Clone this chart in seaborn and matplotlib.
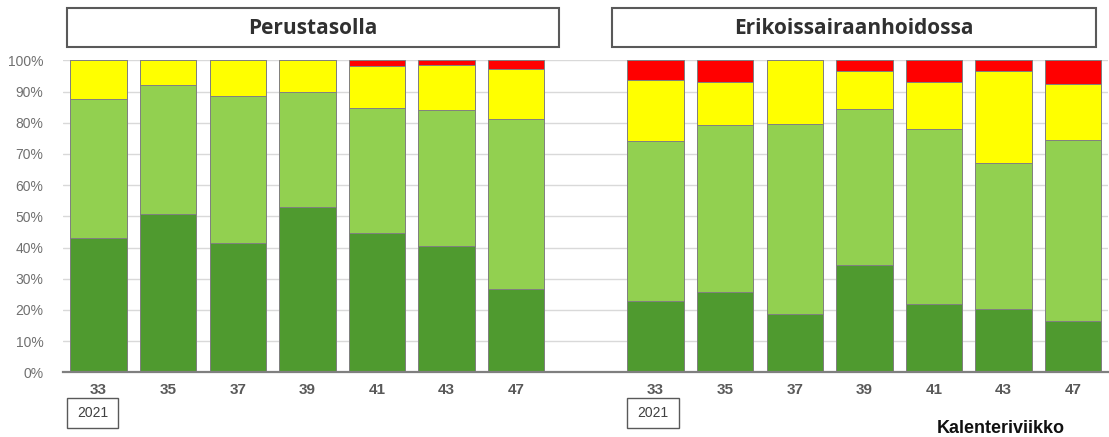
import matplotlib
matplotlib.use("Agg")
import matplotlib.pyplot as plt
from matplotlib.patches import Rectangle
import numpy as np
import pandas as pd
import seaborn as sns

# ---- data (percent shares) ----
weeks = ["33", "35", "37", "39", "41", "43", "47"]
groups = ["Perustasolla", "Erikoissairaanhoidossa"]
year_label = "2021"
xlabel_text = "Kalenteriviikko"

perus_dark = [43.2, 50.7, 41.5, 52.9, 44.6, 40.5, 26.6]
perus_light = [44.5, 41.3, 46.9, 36.8, 40.1, 43.6, 54.7]
perus_yellow = [12.3, 8.0, 11.6, 10.3, 13.6, 14.5, 16.0]
perus_red = [0.0, 0.0, 0.0, 0.0, 1.7, 1.4, 2.7]

erik_dark = [22.8, 25.6, 18.7, 34.3, 22.0, 20.3, 16.5]
erik_light = [51.3, 53.6, 60.9, 50.0, 55.9, 46.9, 58.1]
erik_yellow = [19.7, 13.9, 20.4, 12.4, 15.2, 29.5, 17.8]
erik_red = [6.2, 6.9, 0.0, 3.3, 6.9, 3.3, 7.6]

colors = {"dark": "#4F9A2F", "light": "#92D050", "yellow": "#FFFF00", "red": "#FF0000"}

# ---- build table ----
n = len(weeks)
xpos = list(range(n)) + list(range(n + 1, 2 * n + 1))
df = pd.DataFrame({
    "x": xpos,
    "week": weeks + weeks,
    "dark": perus_dark + erik_dark,
    "light": perus_light + erik_light,
    "yellow": perus_yellow + erik_yellow,
    "red": perus_red + erik_red,
})
df["c_dark"] = df["dark"]
df["c_light"] = df["c_dark"] + df["light"]
df["c_yellow"] = df["c_light"] + df["yellow"]
df["c_red"] = df["c_yellow"] + df["red"]

sns.set_theme(style="white")
plt.rcParams["font.family"] = ["Liberation Sans", "DejaVu Sans"]

W, H = 1109, 437
fig = plt.figure(figsize=(W / 100, H / 100), dpi=100)
ax = fig.add_axes([62.7 / W, (H - 372.3) / H, (1108 - 62.7) / W, 312 / H])

for key in ["red", "yellow", "light", "dark"]:
    sns.barplot(data=df, x="x", y="c_" + key, native_scale=True, width=0.81,
                color=colors[key], saturation=1, edgecolor="#808080",
                linewidth=0.7, errorbar=None, ax=ax)

ax.set_xlim(-0.515, 2 * n + 0.5)
ax.set_ylim(0, 100)
ax.set_yticks(np.arange(0, 101, 10))
ax.set_yticklabels([f"{v}%" for v in range(0, 101, 10)])
ax.set_xticks(xpos)
ax.set_xticklabels(weeks + weeks, fontweight="bold")
ax.set_xlabel("")
ax.set_ylabel("")
ax.yaxis.grid(True, color="#d9d9d9", linewidth=1)
ax.xaxis.grid(False)
ax.set_axisbelow(True)
for s in ["left", "top", "right"]:
    ax.spines[s].set_visible(False)
ax.spines["bottom"].set_color("#7f7f7f")
ax.spines["bottom"].set_linewidth(1.6)
ax.tick_params(axis="y", length=0, pad=14, labelsize=10, labelcolor="#707070")
ax.tick_params(axis="x", length=0, pad=8, labelsize=11, labelcolor="#595959")

def fig_rect(x0, y0, x1, y1, lw):
    fig.add_artist(Rectangle((x0 / W, 1 - y1 / H), (x1 - x0) / W, (y1 - y0) / H,
                             transform=fig.transFigure, fill=False,
                             edgecolor="#595959", linewidth=lw))

# group title boxes
for (x0, x1), title in zip([(66.7, 559.3), (612, 1096)], groups):
    fig_rect(x0, 8.3, x1, 47.3, 1.5)
    fig.text((x0 + x1) / 2 / W, 1 - 28 / H, title, ha="center", va="center",
             fontsize=15, fontweight="bold", color="#303030",
             family=["Open Sans", "DejaVu Sans"])

# year boxes
for x0 in [66.7, 627]:
    fig_rect(x0, 398.3, x0 + 51.6, 427.7, 1.0)
    fig.text((x0 + 25.8) / W, 1 - 413 / H, year_label, ha="center", va="center",
             fontsize=10, color="#404040")

fig.text(1001 / W, 1 - 433 / H, xlabel_text, ha="center", va="baseline",
         fontsize=13, fontweight="bold", color="#111111")

fig.savefig("out.png", dpi=100)
